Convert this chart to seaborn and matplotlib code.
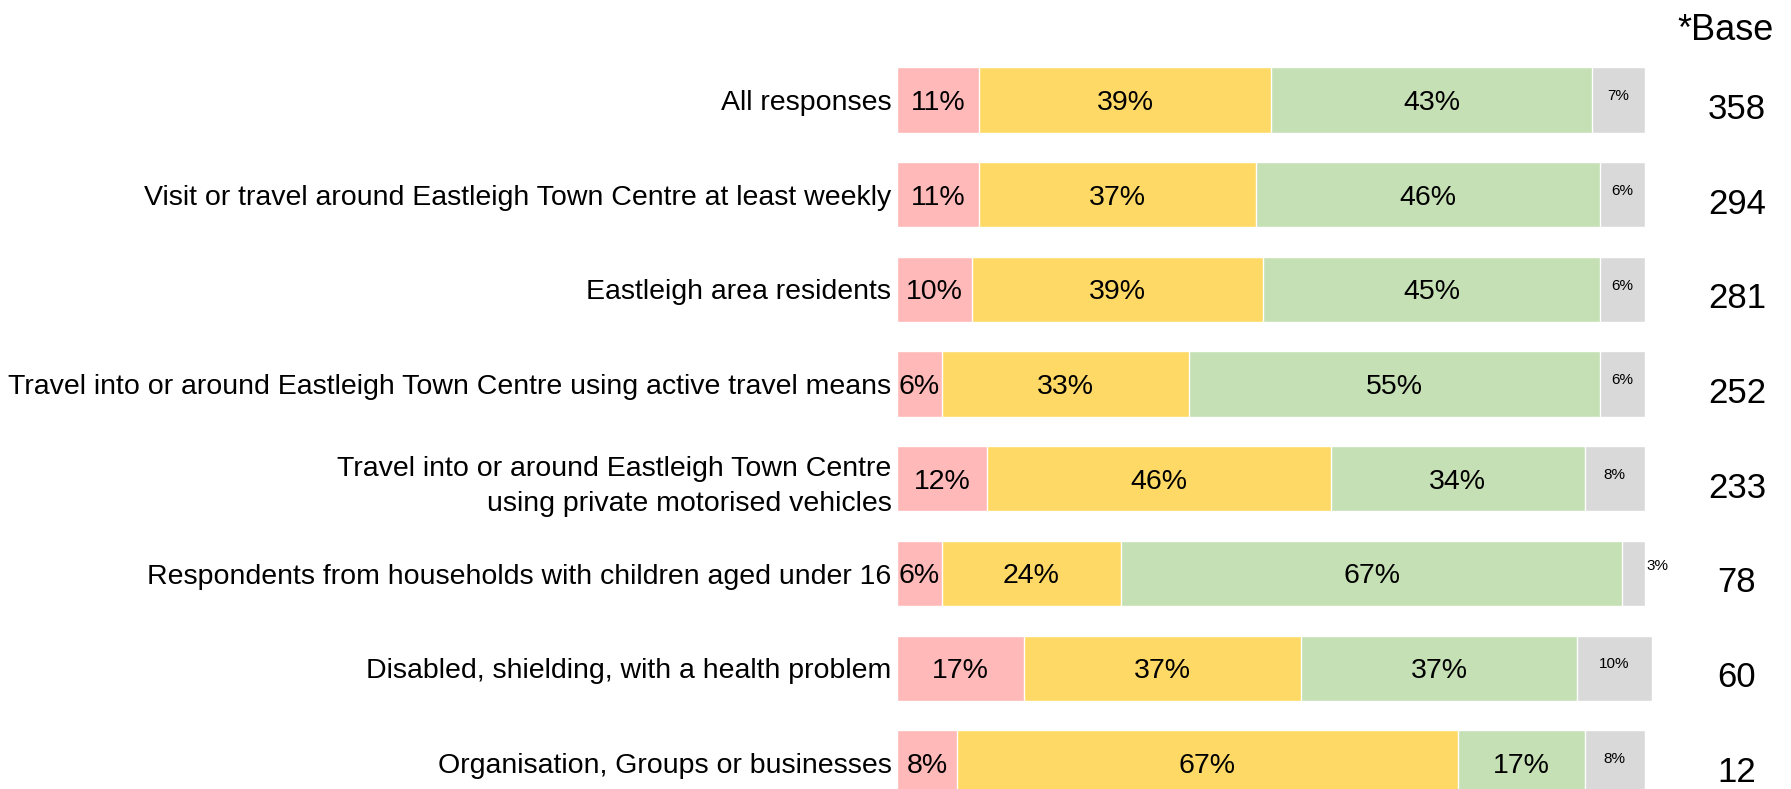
import pandas as pd
import matplotlib.pyplot as plt
import matplotlib.transforms as mtransforms
import seaborn as sns

# Datos
groups = [
    'All responses',
    'Visit or travel around Eastleigh Town Centre at least weekly',
    'Eastleigh area residents',
    'Travel into or around Eastleigh Town Centre using active travel means',
    'Travel into or around Eastleigh Town Centre\nusing private motorised vehicles',
    'Respondents from households with children aged under 16',
    'Disabled, shielding, with a health problem',
    'Organisation, Groups or businesses',
]
pink_pct = [11, 11, 10, 6, 12, 6, 17, 8]
yellow_pct = [39, 37, 39, 33, 46, 24, 37, 67]
green_pct = [43, 46, 45, 55, 34, 67, 37, 17]
grey_pct = [7, 6, 6, 6, 8, 3, 10, 8]
base_n = [358, 294, 281, 252, 233, 78, 60, 12]

colors = ['#FFB9B9', '#FFD966', '#C5E0B4', '#D9D9D9']

df = pd.DataFrame({'group': groups, 'pink': pink_pct, 'yellow': yellow_pct,
                   'green': green_pct, 'grey': grey_pct})
df['c1'] = df['pink']
df['c2'] = df['c1'] + df['yellow']
df['c3'] = df['c2'] + df['green']
df['c4'] = df['c3'] + df['grey']

sns.set_style('white')
plt.rcParams['font.family'] = ['Liberation Sans', 'DejaVu Sans']
plt.rcParams['text.color'] = 'black'
plt.rcParams['ytick.labelcolor'] = 'black'

fig = plt.figure(figsize=(17.91, 7.89), dpi=100)
ax = fig.add_axes([897 / 1791, 0, 755 / 1791, 749 / 789])

# barras apiladas: se dibujan los acumulados de mayor a menor
for col, color in zip(['c4', 'c3', 'c2', 'c1'], colors[::-1]):
    sns.barplot(data=df, x=col, y='group', orient='h', color=color,
                saturation=1, width=0.69, errorbar=None, ax=ax)

ax.set_xlim(0, 101)
ax.set_ylim(7.275, -0.633)
sns.despine(ax=ax, left=True, bottom=True)
ax.set_xticks([])
ax.set_xlabel('')
ax.set_ylabel('')
ax.tick_params(axis='y', length=0, pad=4, labelsize=20.5, labelcolor='black')
for t in ax.get_yticklabels():
    t.set_linespacing(1.45)

# etiquetas de porcentaje
for i, row in df.iterrows():
    starts = [0, row['c1'], row['c2'], row['c3']]
    vals = [row['pink'], row['yellow'], row['green'], row['grey']]
    for k, (s, v) in enumerate(zip(starts, vals)):
        if k < 3:
            ax.text(s + v / 2, i + 0.03, f'{v}%', ha='center', va='center', fontsize=20.5)
        elif v < 4:
            ax.text(s + v + 0.3, i - 0.08, f'{v}%', ha='left', va='center', fontsize=11)
        else:
            ax.text(s + v / 2, i - 0.04, f'{v}%', ha='center', va='center', fontsize=11)

# columna de bases
trans = mtransforms.blended_transform_factory(fig.transFigure, ax.transData)
for i, n in enumerate(base_n):
    ax.text(1737 / 1791, i + 0.1, str(n), transform=trans, ha='center',
            va='center', fontsize=25)
fig.text(1726 / 1791, 1 - 30 / 789, '*Base', ha='center', va='center', fontsize=26)

plt.savefig('out.png', dpi=100)
plt.close()
